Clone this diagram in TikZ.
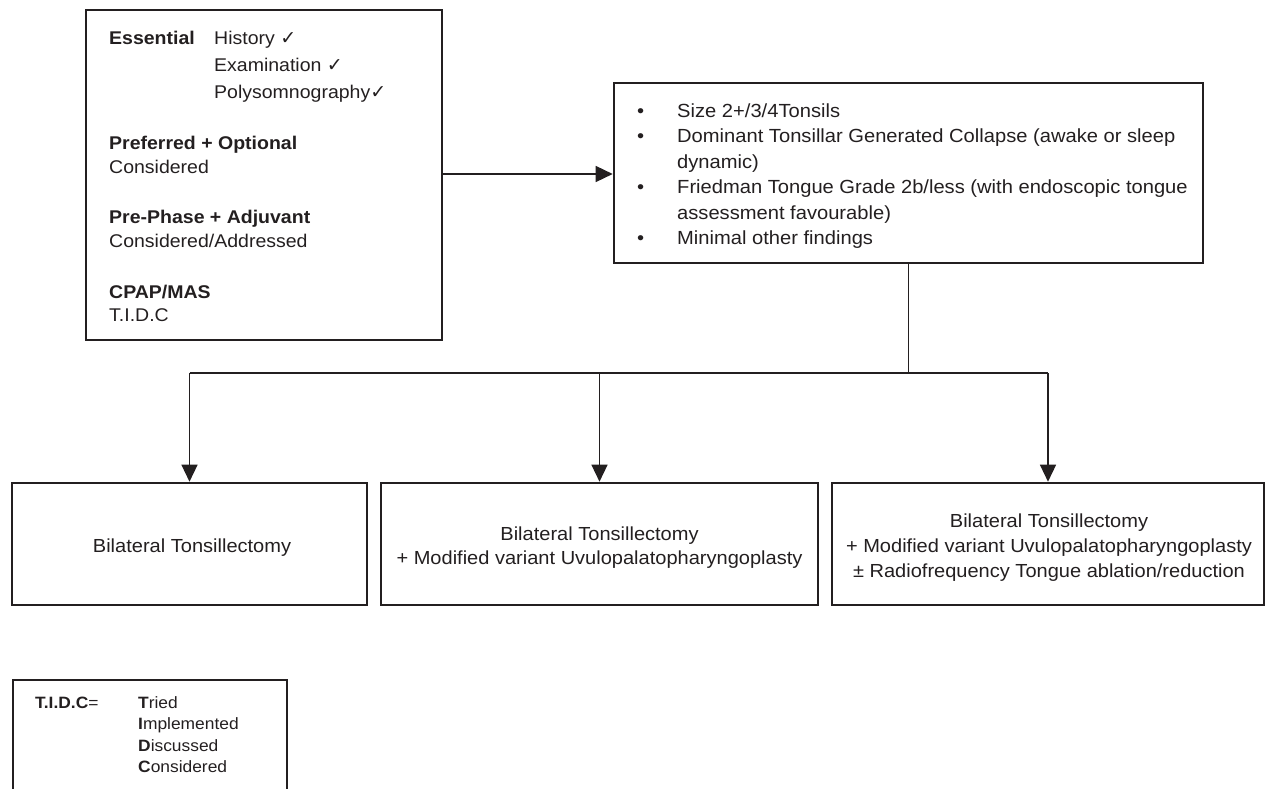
\documentclass[tikz,border=0pt]{standalone}
\usepackage{fontspec}
\setmainfont{Liberation Sans}[FakeStretch=1.06]
\newfontfamily\symf{DejaVu Sans}
\usetikzlibrary{arrows.meta}
\definecolor{ink}{HTML}{231F20}
\tikzset{
  box/.style={draw=ink, line width=2.6pt, fill=none, inner sep=0pt},
  conn/.style={draw=ink, line width=1.4pt},
  trunk/.style={draw=ink, line width=1.8pt},
  arr/.style={conn, -{Triangle[length=17pt,width=16pt]}},
  ltxt/.style={anchor=base west, inner sep=0pt, text=ink, font=\fontsize{18.4}{22}\selectfont},
  rtxt/.style={anchor=base west, inner sep=0pt, text=ink, font=\fontsize{19}{23}\selectfont},
  btxt/.style={anchor=base, inner sep=0pt, text=ink, font=\fontsize{18.9}{23}\selectfont},
  gtxt/.style={anchor=base west, inner sep=0pt, text=ink, font=\fontsize{16.4}{20}\selectfont}
}
\newcommand{\ck}{{\symf\fontsize{19}{22}\selectfont ✓}}
\begin{document}
\begin{tikzpicture}[x=1pt,y=-1pt]
\useasboundingbox (0,0) rectangle (1267,789);
% boxes
\node[box, minimum width=356pt, minimum height=330pt] (L) at (264,175) {};
\node[box, minimum width=589pt, minimum height=180pt] (R) at (908.5,173) {};
\node[box, minimum width=355pt, minimum height=122pt] (B1) at (189.5,544) {};
\node[box, minimum width=437pt, minimum height=122pt] (B2) at (599.5,544) {};
\node[box, minimum width=432pt, minimum height=122pt] (B3) at (1048,544) {};
% left box text
\node[ltxt] (l1) at (109,44.6) {\bfseries Essential};
\node[ltxt] (l1b) at (214,44.6) {History \ck};
\node[ltxt] (l2) at (214,71.6) {Examination \ck};
\node[ltxt] (l3) at (214,98.6) {Polysomnography\ck};
\node[ltxt] (l4) at (109,149.6) {\bfseries Preferred + Optional};
\node[ltxt] (l5) at (109,173.6) {Considered};
\node[ltxt] (l6) at (109,223.6) {\bfseries Pre-Phase + Adjuvant};
\node[ltxt] (l7) at (109,247.6) {Considered/Addressed};
\node[ltxt] (l8) at (109,298.6) {\bfseries CPAP/MAS};
\node[ltxt] (l9) at (109,321.6) {T.I.D.C};
% right box text
\node[rtxt] (r1b) at (637,117.4) {•};
\node[rtxt] (r1) at (677,117.4) {Size 2+/3/4Tonsils};
\node[rtxt] (r2b) at (637,142.8) {•};
\node[rtxt] (r2) at (677,142.8) {Dominant Tonsillar Generated Collapse (awake or sleep};
\node[rtxt] (r3) at (677,168.2) {dynamic)};
\node[rtxt] (r4b) at (637,193.6) {•};
\node[rtxt] (r4) at (677,193.6) {Friedman Tongue Grade 2b/less (with endoscopic tongue};
\node[rtxt] (r5) at (677,219) {assessment favourable)};
\node[rtxt] (r6b) at (637,244.4) {•};
\node[rtxt] (r6) at (677,244.4) {Minimal other findings};
% bottom texts
\node[btxt] (b1) at (192,552) {Bilateral Tonsillectomy};
\node[btxt] (b2a) at (599.5,540) {Bilateral Tonsillectomy};
\node[btxt] (b2b) at (599.5,564) {+ Modified variant Uvulopalatopharyngoplasty};
\node[btxt] (b3a) at (1049,527) {Bilateral Tonsillectomy};
\node[btxt] (b3b) at (1049,552) {+ Modified variant Uvulopalatopharyngoplasty};
\node[btxt] (b3c) at (1049,577) {± Radiofrequency Tongue ablation/reduction};
% connectors
\draw[arr] (L.east |- 0,174) -- (R.west |- 0,174);
\coordinate (J) at (R.south |- 0,373);
\coordinate (Jl) at (B1.north |- J);
\coordinate (Jr) at (B3.north |- J);
\draw[trunk] (R.south) -- (J);
\draw[conn] (Jl) -- (Jr);
\draw[arr] (Jl) -- (B1.north);
\draw[arr] (B2.north |- J) -- (B2.north);
\draw[arr] (Jr) -- (B3.north);
% legend
\draw[draw=ink, line width=1.3pt] (13,789) -- (13,680) -- (287,680) -- (287,789);
\node[gtxt] (g0) at (35,708) {\bfseries T.I.D.C\mdseries=};
\node[gtxt] (g1) at (138,708) {\textbf{T}ried};
\node[gtxt] (g2) at (138,729.5) {\textbf{I}mplemented};
\node[gtxt] (g3) at (138,751) {\textbf{D}iscussed};
\node[gtxt] (g4) at (138,772.5) {\textbf{C}onsidered};
\end{tikzpicture}
\end{document}
